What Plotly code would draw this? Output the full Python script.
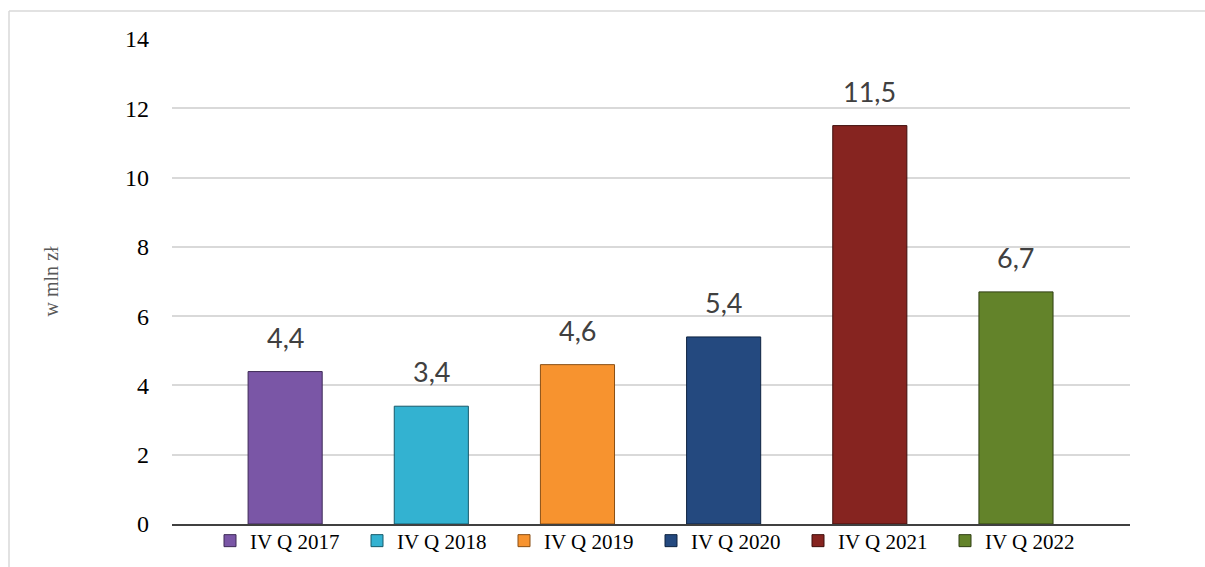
import plotly.graph_objects as go

categories = ["IV Q 2017", "IV Q 2018", "IV Q 2019", "IV Q 2020", "IV Q 2021", "IV Q 2022"]
values = [4.4, 3.4, 4.6, 5.4, 11.5, 6.7]
colors = ["#7A56A6", "#33B2D1", "#F7932F", "#24497F", "#862420", "#63832A"]
edge_colors = ["#3E2A57", "#175A6B", "#8A4F14", "#0E2340", "#3F0E0C", "#303F13"]
y_ticks = [0, 2, 4, 6, 8, 10, 12, 14]
y_title = "w mln zł"

SERIF = "Liberation Serif"

W, H = 1205, 567
L, R, T, B = 172, 75, 39, 43
pw, ph = W - L - R, H - T - B

fig = go.Figure()
for cat, val, col, ec in zip(categories, values, colors, edge_colors):
    fig.add_trace(go.Bar(
        x=[cat], y=[val], name=cat,
        marker=dict(color=col, line=dict(color=ec, width=1)),
        width=0.507,
        hoverinfo="skip",
    ))
    fig.add_annotation(
        x=cat, y=val, xref="x", yref="y",
        text=f"{val:.1f}".replace(".", ","),
        showarrow=False, yanchor="bottom", yshift=16,
        font=dict(family="Lato", size=27, color="#404040"),
    )

fig.add_annotation(
    x=(50 - L) / pw, y=0.5, xref="paper", yref="paper",
    text=y_title, textangle=-90, showarrow=False,
    xanchor="center", yanchor="middle",
    font=dict(family=SERIF, size=20, color="#595959"),
)

# outer chart frame (top and left edges visible)
fig.add_shape(type="line", xref="paper", yref="paper",
              x0=(9 - L) / pw, x1=(W - L) / pw, y0=(H - B - 11) / ph, y1=(H - B - 11) / ph,
              line=dict(color="#D9D9D9", width=1.5))
fig.add_shape(type="line", xref="paper", yref="paper",
              x0=(9 - L) / pw, x1=(9 - L) / pw, y0=(H - B - 11) / ph, y1=-B / ph,
              line=dict(color="#D9D9D9", width=1.5))

fig.update_layout(
    width=W, height=H,
    margin=dict(l=L, r=R, t=T, b=B, autoexpand=False),
    paper_bgcolor="white", plot_bgcolor="white",
    barmode="overlay",
    showlegend=True,
    legend=dict(
        orientation="h", x=0.5, xanchor="center",
        y=(H - B - 541) / ph, yanchor="middle",
        font=dict(family=SERIF, size=21, color="#000000"),
        bgcolor="rgba(0,0,0,0)",
        entrywidth=102, entrywidthmode="pixels",
        itemwidth=30, traceorder="normal",
    ),
    xaxis=dict(
        range=[-0.774, 5.78],
        showticklabels=False, showgrid=False,
        showline=True, linecolor="#404040", linewidth=1.5,
        zeroline=False, fixedrange=True,
    ),
    yaxis=dict(
        range=[0, 14], tickvals=y_ticks,
        showgrid=True, gridcolor="#D9D9D9", gridwidth=1.5,
        zeroline=False, showline=False,
        tickfont=dict(family=SERIF, size=24, color="#000000"),
        ticklabelstandoff=22,
        fixedrange=True,
    ),
)

fig.write_html("out.html", config={"displayModeBar": False})

# remove the default page margin so the figure sits at the window origin
with open("out.html", "r", encoding="utf-8") as f:
    html = f.read()
html = html.replace("<body>", '<body style="margin:0;overflow:hidden">', 1)
with open("out.html", "w", encoding="utf-8") as f:
    f.write(html)
